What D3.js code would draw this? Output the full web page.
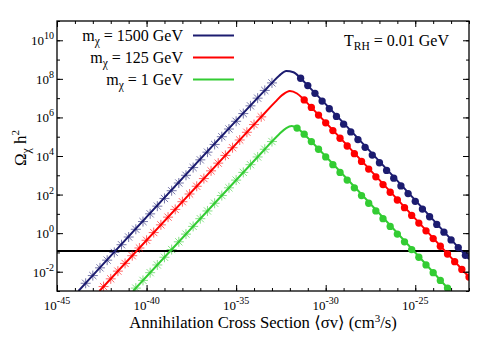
<!DOCTYPE html>
<html>
<head>
<meta charset="utf-8">
<script src="https://cdn.jsdelivr.net/npm/d3@7"></script>
<style>
body { margin: 0; background: #fff; }
</style>
</head>
<body>
<svg width="500" height="350"></svg>
<script>
// all values are log10 : [log10 <sigma v>, log10 Omega h^2]
var names = ["1500", "125", "1"];
var colors = ["#1c1c70", "#ff0000", "#33cc33"];

var blueStars = [[-43.4,-2.6],[-43.0,-2.2],[-42.6,-1.8],[-42.2,-1.4],[-41.8,-1.0],[-41.4,-0.6],[-41.0,-0.2],[-40.6,0.2],[-40.2,0.6],[-39.8,1.0],[-39.4,1.4],[-39.0,1.8],[-38.6,2.2],[-38.2,2.6],[-37.8,3.0],[-37.4,3.4],[-37.0,3.8],[-36.6,4.2],[-36.2,4.6],[-35.8,5.0],[-35.4,5.4],[-35.0,5.8],[-34.6,6.2],[-34.2,6.6],[-33.8,7.0],[-33.4,7.4],[-33.0,7.79]];
var blueDots = [[-31.4,8.03],[-31.0,7.65],[-30.6,7.25],[-30.2,6.85],[-29.8,6.45],[-29.4,6.05],[-29.0,5.65],[-28.6,5.25],[-28.2,4.85],[-27.8,4.45],[-27.4,4.05],[-27.0,3.65],[-26.6,3.25],[-26.2,2.85],[-25.8,2.45],[-25.4,2.05],[-25.0,1.65],[-24.6,1.25],[-24.2,0.85],[-23.8,0.45],[-23.4,0.05],[-23.0,-0.35],[-22.6,-0.75],[-22.2,-1.15]];
var blueLine = [[-43.8,-3.0],[-33.4,7.4],[-33.0,7.79],[-32.6,8.16],[-32.2,8.41],[-31.8,8.34],[-31.4,8.03],[-31.0,7.65],[-22.0,-1.35]];

var redStars = [[-42.4,-2.77],[-42.0,-2.37],[-41.6,-1.97],[-41.2,-1.57],[-40.8,-1.17],[-40.4,-0.77],[-40.0,-0.37],[-39.6,0.03],[-39.2,0.43],[-38.8,0.83],[-38.4,1.23],[-38.0,1.63],[-37.6,2.03],[-37.2,2.43],[-36.8,2.83],[-36.4,3.23],[-36.0,3.63],[-35.6,4.03],[-35.2,4.43],[-34.8,4.83],[-34.4,5.23],[-34.0,5.63],[-33.6,6.03]];
var redDots = [[-31.2,6.91],[-30.8,6.52],[-30.4,6.12],[-30.0,5.72],[-29.6,5.32],[-29.2,4.92],[-28.8,4.52],[-28.4,4.12],[-28.0,3.72],[-27.6,3.32],[-27.2,2.92],[-26.8,2.52],[-26.4,2.12],[-26.0,1.72],[-25.6,1.32],[-25.2,0.92],[-24.8,0.52],[-24.4,0.12],[-24.0,-0.28],[-23.6,-0.68],[-23.2,-1.08],[-22.8,-1.48],[-22.4,-1.88],[-22.0,-2.28]];
var redLine = [[-42.63,-3.0],[-33.6,6.03],[-33.2,6.43],[-32.8,6.82],[-32.4,7.18],[-32.0,7.37],[-31.6,7.24],[-31.2,6.91],[-30.8,6.52],[-21.8,-2.48]];

var greenStars = [[-40.6,-2.85],[-40.2,-2.45],[-39.8,-2.05],[-39.4,-1.65],[-39.0,-1.25],[-38.6,-0.85],[-38.2,-0.45],[-37.8,-0.05],[-37.4,0.35],[-37.0,0.75],[-36.6,1.15],[-36.2,1.55],[-35.8,1.95],[-35.4,2.35],[-35.0,2.75],[-34.6,3.15],[-34.2,3.55],[-33.8,3.95],[-33.4,4.35],[-33.0,4.75]];
var greenDots = [[-31.6,5.45],[-31.2,5.13],[-30.8,4.75],[-30.4,4.35],[-30.0,3.95],[-29.6,3.55],[-29.2,3.15],[-28.8,2.75],[-28.4,2.35],[-28.0,1.95],[-27.6,1.55],[-27.2,1.15],[-26.8,0.75],[-26.4,0.35],[-26.0,-0.05],[-25.6,-0.45],[-25.2,-0.85],[-24.8,-1.25],[-24.4,-1.65],[-24.0,-2.05],[-23.6,-2.45],[-23.2,-2.85]];
var greenLine = [[-40.75,-3.0],[-33.4,4.35],[-33.0,4.75],[-32.6,5.13],[-32.2,5.45],[-31.9,5.55],[-31.6,5.45],[-31.2,5.13],[-30.8,4.75],[-23.05,-3.0]];

var omegaObs = 0.12;
var xTickExp = [-45, -40, -35, -30, -25];
var yTickExp = [-2, 0, 2, 4, 6, 8, 10];
var xDomain = [1e-45, 1e-22], yDomain = [1e-3, 1e11];

var series = [
    {name: names[0], color: colors[0], stars: blueStars, dots: blueDots, line: blueLine},
    {name: names[1], color: colors[1], stars: redStars, dots: redDots, line: redLine},
    {name: names[2], color: colors[2], stars: greenStars, dots: greenDots, line: greenLine}
];

var FONT = "'Liberation Serif', 'Times New Roman', Times, 'DejaVu Serif', serif";

var svg = d3.select("svg"),
    L = 57, R = 469, T = 21, B = 291;

var x = d3.scaleLog().domain(xDomain).range([L, R]),
    y = d3.scaleLog().domain(yDomain).range([B, T]);

var px = d => x(Math.pow(10, d[0])),
    py = d => y(Math.pow(10, d[1]));

svg.append("clipPath").attr("id", "clip")
    .append("rect").attr("x", L).attr("y", T).attr("width", R - L).attr("height", B - T);

var plot = svg.append("g").attr("clip-path", "url(#clip)");

// observed relic density
plot.append("line")
    .attr("x1", L).attr("x2", R)
    .attr("y1", y(omegaObs)).attr("y2", y(omegaObs))
    .attr("stroke", "#000").attr("stroke-width", 2);

var line = d3.line().x(px).y(py).curve(d3.curveMonotoneX);
var star = "M0,-5V5M-5,0H5M-3.6,-3.6L3.6,3.6M-3.6,3.6L3.6,-3.6";

series.forEach(function(s){
    plot.append("g").selectAll("path")
        .data(s.stars)
        .enter().append("path")
        .attr("transform", d => `translate(${px(d)},${py(d)})`)
        .attr("d", star)
        .attr("stroke", s.color)
        .attr("stroke-opacity", 0.6)
        .attr("stroke-width", 1)
        .attr("fill", "none");

    plot.append("path")
        .attr("d", line(s.line))
        .attr("fill", "none")
        .attr("stroke", s.color)
        .attr("stroke-width", 2);

    plot.append("g").selectAll("path")
        .data(s.dots)
        .enter().append("path")
        .attr("transform", d => `translate(${px(d)},${py(d)})`)
        .attr("d", d3.symbol(d3.symbolCircle, 42))
        .attr("fill", s.color);
});

// axes: major and minor ticks on all four sides, pointing inward
var xMinor = d3.range(-45, -21).map(e => Math.pow(10, e)),
    yMinor = d3.range(-3, 12).map(e => Math.pow(10, e)),
    xMajor = xTickExp.map(e => Math.pow(10, e)),
    yMajor = yTickExp.map(e => Math.pow(10, e));

function ticks(axis, vals, size, tr){
    svg.append("g").attr("transform", tr)
        .call(axis.tickValues(vals).tickSize(size).tickFormat(""))
        .call(g => g.select(".domain").remove())
        .selectAll("line").attr("stroke", "#000");
}
ticks(d3.axisBottom(x), xMinor, -3, `translate(0,${B})`);
ticks(d3.axisBottom(x), xMajor, -6, `translate(0,${B})`);
ticks(d3.axisTop(x), xMinor, -3, `translate(0,${T})`);
ticks(d3.axisTop(x), xMajor, -6, `translate(0,${T})`);
ticks(d3.axisLeft(y), yMinor, -3, `translate(${L},0)`);
ticks(d3.axisLeft(y), yMajor, -6, `translate(${L},0)`);
ticks(d3.axisRight(y), yMinor, -3, `translate(${R},0)`);
ticks(d3.axisRight(y), yMajor, -6, `translate(${R},0)`);

svg.append("rect")
    .attr("x", L).attr("y", T).attr("width", R - L).attr("height", B - T)
    .attr("fill", "none").attr("stroke", "#000").attr("stroke-width", 1.3);

// tick labels with superscript exponents
svg.append("g").selectAll("text")
    .data(xTickExp)
    .enter().append("text")
    .attr("x", d => x(Math.pow(10, d)))
    .attr("y", B + 19)
    .attr("text-anchor", "middle")
    .style("font-family", FONT)
    .attr("font-size", 13)
    .each(function(d){
        var t = d3.select(this);
        t.append("tspan").text("10");
        t.append("tspan").attr("dy", -6).attr("font-size", 10).text(d);
    });

svg.append("g").selectAll("text")
    .data(yTickExp)
    .enter().append("text")
    .attr("x", L - 3)
    .attr("y", d => y(Math.pow(10, d)) + 5)
    .attr("text-anchor", "end")
    .style("font-family", FONT)
    .attr("font-size", 13)
    .each(function(d){
        var t = d3.select(this);
        t.append("tspan").text("10");
        t.append("tspan").attr("dy", -6).attr("font-size", 10).text(d);
    });

// axis titles
var xt = svg.append("text")
    .attr("x", (L + R) / 2).attr("y", 328)
    .attr("text-anchor", "middle")
    .style("font-family", FONT)
    .attr("font-size", 16.7);
xt.append("tspan").text("Annihilation Cross Section \u27E8\u03C3v\u27E9 (cm");
xt.append("tspan").attr("dy", -6).attr("font-size", 11).text("3");
xt.append("tspan").attr("dy", 6).text("/s)");

var yt = svg.append("text")
    .attr("transform", "translate(26,148) rotate(-90)")
    .attr("text-anchor", "middle")
    .style("font-family", FONT)
    .attr("font-size", 17);
yt.append("tspan").text("\u03A9");
yt.append("tspan").attr("dy", 4).attr("font-size", 12).text("\u03C7");
yt.append("tspan").attr("dy", -4).text(" h");
yt.append("tspan").attr("dy", -7).attr("font-size", 11).text("2");

// legend
var leg = svg.append("g").selectAll("g")
    .data(series)
    .enter().append("g")
    .attr("transform", (d, i) => `translate(0,${35.5 + i * 22})`);
leg.append("line")
    .attr("x1", 193).attr("x2", 234)
    .attr("stroke", d => d.color).attr("stroke-width", 2);
leg.append("text")
    .attr("x", 183).attr("y", 5)
    .attr("text-anchor", "end")
    .style("font-family", FONT)
    .attr("font-size", 16)
    .each(function(d){
        var t = d3.select(this);
        t.append("tspan").text("m");
        t.append("tspan").attr("dy", 4).attr("font-size", 11.5).text("\u03C7");
        t.append("tspan").attr("dy", -4).text(" = " + d.name + " GeV");
    });

var tr = svg.append("text")
    .attr("x", 449).attr("y", 46)
    .attr("text-anchor", "end")
    .style("font-family", FONT)
    .attr("font-size", 16);
tr.append("tspan").text("T");
tr.append("tspan").attr("dy", 4).attr("font-size", 11.5).text("RH");
tr.append("tspan").attr("dy", -4).text(" = 0.01 GeV");
</script>
</body>
</html>
